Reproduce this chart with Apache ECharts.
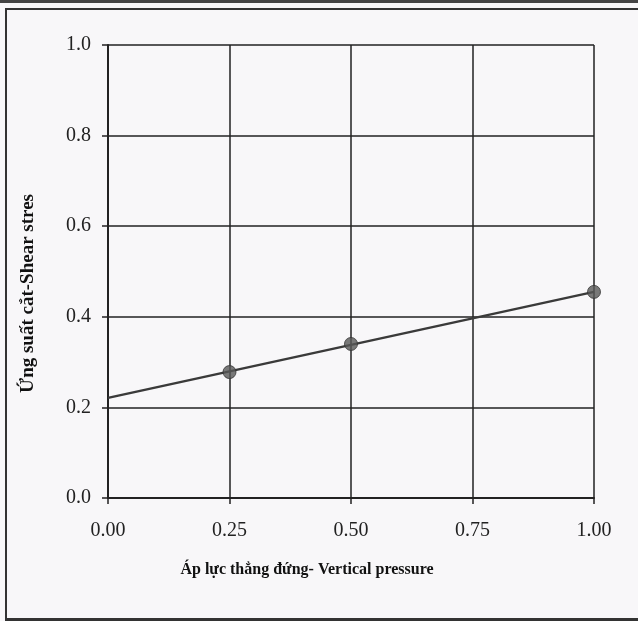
<!DOCTYPE html>
<html>
<head>
<meta charset="utf-8">
<script src="https://cdn.jsdelivr.net/npm/echarts@6/dist/echarts.min.js"></script>
<style>
  html, body { margin: 0; padding: 0; background: #f8f7f9; }
  #frame { position: absolute; left: 5px; top: 8px; width: 640px; height: 608px;
           border-left: 2px solid #333; border-top: 2px solid #333; border-bottom: 3px solid #333; }
  #topband { position: absolute; left: 0; top: 0; width: 638px; height: 3px; background: #444; }
  #chart { position: absolute; left: 0; top: 0; width: 638px; height: 621px; }
</style>
</head>
<body>
<div id="topband"></div>
<div id="frame"></div>
<div id="chart"></div>
<script>
// measured points (vertical pressure, shear stress)
var pressure = [0.25, 0.50, 1.00];
var shear = [0.278, 0.340, 0.455];
// fitted line ends
var fitX = [0, 1];
var fitY = [0.221, 0.455];

var xTicks = ['0.00', '0.25', '0.50', '0.75', '1.00'];
var yTicks = ['0.0', '0.2', '0.4', '0.6', '0.8', '1.0'];

var font = '"Liberation Serif", "DejaVu Serif", serif';

var chart = echarts.init(document.getElementById('chart'));
chart.setOption({
  backgroundColor: 'transparent',
  animation: false,
  grid: { left: 108, right: 44, top: 45, bottom: 123 },
  xAxis: {
    type: 'value', min: 0, max: 1, interval: 0.25,
    name: 'Áp lực thẳng đứng- Vertical pressure',
    nameLocation: 'middle', nameGap: 64,
    nameTextStyle: { fontFamily: font, fontSize: 16, fontWeight: 'bold', color: '#111', padding: [0, 88, 0, 0] },
    axisLine: { lineStyle: { color: '#222', width: 2 } },
    axisTick: { show: true, length: 6, lineStyle: { color: '#222', width: 1.5 } },
    axisLabel: { margin: 23, fontFamily: font, fontSize: 20, color: '#222',
      formatter: function (v) { return xTicks[Math.round(v / 0.25)]; } },
    splitLine: { show: true, lineStyle: { color: '#222', width: 1.5 } }
  },
  yAxis: {
    type: 'value', min: 0, max: 1, interval: 0.2,
    name: 'Ứng suất cắt-Shear stres',
    nameLocation: 'middle', nameGap: 70,
    nameTextStyle: { fontFamily: font, fontSize: 19, fontWeight: 'bold', color: '#111', padding: [0, 44, 0, 0] },
    axisLine: { show: true, lineStyle: { color: '#222', width: 2 } },
    axisTick: { show: true, length: 6, lineStyle: { color: '#222', width: 1.5 } },
    axisLabel: { margin: 17, fontFamily: font, fontSize: 20, color: '#222',
      formatter: function (v) { return yTicks[Math.round(v / 0.2)]; } },
    splitLine: { show: true, lineStyle: { color: '#222', width: 1.5 } }
  },
  series: [
    {
      type: 'line',
      data: fitX.map(function (x, i) { return [x, fitY[i]]; }),
      showSymbol: false,
      lineStyle: { color: '#3a3a3a', width: 2.5 },
      z: 3
    },
    {
      type: 'scatter',
      data: pressure.map(function (x, i) { return [x, shear[i]]; }),
      symbol: 'circle',
      symbolSize: 13,
      itemStyle: { color: '#585858', borderColor: '#333', borderWidth: 1 },
      z: 4
    }
  ]
});
</script>
</body>
</html>
